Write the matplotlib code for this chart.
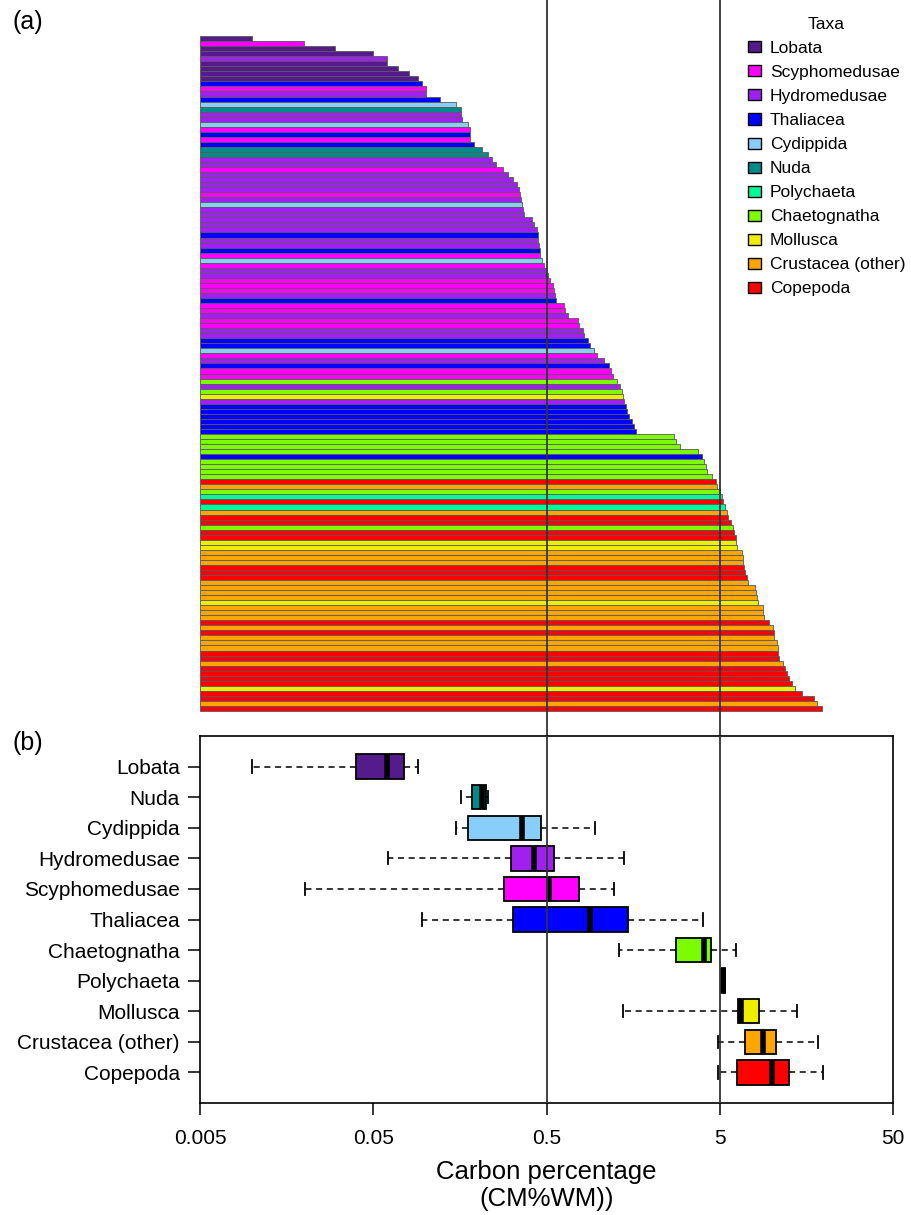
import matplotlib
matplotlib.use("Agg")
import matplotlib.pyplot as plt
from matplotlib.patches import Patch
import numpy as np

plt.rcParams["font.family"] = ["Liberation Sans", "DejaVu Sans"]

# taxa, in legend order
TAXA = ["Lobata", "Scyphomedusae", "Hydromedusae", "Thaliacea", "Cydippida", "Nuda",
        "Polychaeta", "Chaetognatha", "Mollusca", "Crustacea (other)", "Copepoda"]
CODES = ["L", "S", "H", "T", "C", "N", "P", "G", "M", "O", "K"]
COLORS = ["#551A8B", "#FF00FF", "#A020F0", "#0000FF", "#87CEFA", "#008B8B",
          "#00FA9A", "#7CFC00", "#EEEE00", "#FFA500", "#FF0000"]

# panel (a): one bar per species, sorted ascending (top = smallest)
bar_taxa = list(
    "LSLLHLLLLT" "SHTCNHHCST" "STNNHHSHHH" "HSHCHHHHHT" "HHTSCSHHSS"
    "SHTSSHSSHH" "TTCSHTSSGH" "GMHTTTTTTG" "GGGTGGGGKO" "GPKPOKKGKK"
    "MMOOOKKKOO" "OOMOOOKOKO" "OOKKOKKKKM" "KKOK"
)
bar_values = [
    0.0100, 0.0199, 0.0301, 0.0498, 0.0600, 0.0602, 0.0694, 0.0803, 0.0906, 0.0955,
    0.1007, 0.1012, 0.1213, 0.1500, 0.1604, 0.1608, 0.1625, 0.1760, 0.1807, 0.1810,
    0.1815, 0.1906, 0.2120, 0.2296, 0.2421, 0.2553, 0.2802, 0.2995, 0.3200, 0.3375,
    0.3466, 0.3512, 0.3560, 0.3607, 0.3655, 0.3704, 0.4120, 0.4230, 0.4400, 0.4460,
    0.4470, 0.4520, 0.4580, 0.4590, 0.4705, 0.4830, 0.4960, 0.509, 0.523, 0.544,
    0.552, 0.559, 0.5665, 0.630, 0.6385, 0.6644, 0.759, 0.769, 0.811, 0.822,
    0.8667, 0.890, 0.9387, 0.977, 1.072, 1.1456, 1.1766, 1.208, 1.274, 1.326,
    1.362, 1.380, 1.3985, 1.436, 1.455, 1.494, 1.555, 1.597, 1.640, 2.718,
    2.791, 2.943, 3.739, 3.943, 4.049, 4.158, 4.214, 4.503, 4.749, 4.813,
    5.007, 5.14, 5.21, 5.35, 5.495, 5.57, 5.79, 5.95, 6.03, 6.19,
    6.20, 6.28, 6.71, 6.80, 6.81, 6.89, 6.98, 7.17, 7.26, 7.97,
    8.08, 8.19, 8.30, 8.87, 8.88, 8.98, 9.60, 10.12, 10.26, 10.27,
    10.68, 10.82, 10.83, 10.97, 11.56, 11.88, 12.20, 12.52, 13.03, 13.56,
    14.89, 17.46, 18.17, 19.42,
]

# panel (b): box statistics, top to bottom
box_taxa = ["Lobata", "Nuda", "Cydippida", "Hydromedusae", "Scyphomedusae", "Thaliacea",
            "Chaetognatha", "Polychaeta", "Mollusca", "Crustacea (other)", "Copepoda"]
box_whislo = [0.0100, 0.160, 0.150, 0.0608, 0.0202, 0.0955, 1.308, 5.14, 1.380, 4.877, 4.877]
box_q1 = [0.0397, 0.1856, 0.176, 0.3117, 0.284, 0.320, 2.791, 5.14, 6.41, 6.98, 6.28]
box_med = [0.060, 0.212, 0.3607, 0.423, 0.516, 0.897, 4.049, 5.25, 6.62, 8.87, 9.99]
box_q3 = [0.0752, 0.2235, 0.464, 0.552, 0.769, 1.475, 4.444, 5.35, 8.41, 10.54, 12.52]
box_whishi = [0.0906, 0.2296, 0.951, 1.3985, 1.224, 3.996, 6.19, 5.35, 13.93, 18.54, 19.65]

XTICKS = [0.005, 0.05, 0.5, 5, 50]
XTICKLABELS = ["0.005", "0.05", "0.5", "5", "50"]
REF_LINES = [0.5, 5]

W, H = 911, 1215
fig = plt.figure(figsize=(W / 100, H / 100), dpi=100)
color_of = dict(zip(CODES, COLORS))
name_of = dict(zip(TAXA, COLORS))

# ---- panel (a)
ax_a = fig.add_axes([200 / W, (H - 736) / H, 693 / W, 736 / H])
n = len(bar_values)
ypos = np.arange(n)
ax_a.barh(ypos, np.array(bar_values) - 0.005, left=0.005, height=1.0,
          color=[color_of[c] for c in bar_taxa], edgecolor="#5a5a5a", linewidth=0.6)
ax_a.set_xscale("log")
ax_a.set_xlim(0.005, 50)
ax_a.set_ylim(n - 0.5 + 4.97, -0.5 - 7.16)
for v in REF_LINES:
    ax_a.axvline(v, color="#333333", lw=1.3, zorder=5)
ax_a.axis("off")

handles = [Patch(facecolor=c, edgecolor="black", linewidth=1.0) for c in COLORS]
leg = ax_a.legend(handles, TAXA, title="Taxa", loc="upper left",
                  bbox_to_anchor=(748 / W, 1 - 17 / H), bbox_transform=fig.transFigure,
                  frameon=False, fontsize=12.5, title_fontsize=12.5,
                  handlelength=0.75, handleheight=0.6, handletextpad=0.5,
                  labelspacing=0.52, borderpad=0, borderaxespad=0)

# ---- panel (b)
ax_b = fig.add_axes([200 / W, (H - 1103) / H, 693 / W, 367 / H])
nb = len(box_taxa)
positions = np.arange(nb, 0, -1)
stats = []
for i, name in enumerate(box_taxa):
    stats.append(dict(label=name, whislo=box_whislo[i], q1=box_q1[i], med=box_med[i],
                      q3=box_q3[i], whishi=box_whishi[i], fliers=[]))
bp = ax_b.bxp(stats, positions=positions, widths=0.8, orientation="horizontal",
              patch_artist=True, showfliers=False, capwidths=0.4,
              boxprops=dict(edgecolor="black", linewidth=1.3),
              medianprops=dict(color="black", linewidth=4, solid_capstyle="butt"),
              whiskerprops=dict(color="black", linewidth=1.1, linestyle=(0, (4, 3))),
              capprops=dict(color="black", linewidth=1.3))
for patch, name in zip(bp["boxes"], box_taxa):
    patch.set_facecolor(name_of[name])
for v in REF_LINES:
    ax_b.axvline(v, color="#333333", lw=1.3, zorder=5)

ax_b.set_xscale("log")
ax_b.set_xlim(0.005, 50)
ax_b.set_ylim(0, nb + 1)
ax_b.set_xticks(XTICKS)
ax_b.set_xticklabels(XTICKLABELS)
ax_b.xaxis.set_minor_locator(matplotlib.ticker.NullLocator())
ax_b.set_yticks(positions)
ax_b.set_yticklabels(box_taxa)
ax_b.tick_params(axis="both", labelsize=15, length=8.5, width=1.1, color="black")
ax_b.tick_params(axis="x", pad=10)
ax_b.tick_params(axis="y", pad=6)
for sp in ax_b.spines.values():
    sp.set_linewidth(1.2)
ax_b.set_xlabel("Carbon percentage\n(CM%WM))", fontsize=18.5, linespacing=1.15, labelpad=9)

fig.text(12 / W, 1 - 22 / H, "(a)", fontsize=18, va="center", ha="left")
fig.text(12 / W, 1 - 743 / H, "(b)", fontsize=18, va="center", ha="left")

fig.savefig("out.png", dpi=100)
